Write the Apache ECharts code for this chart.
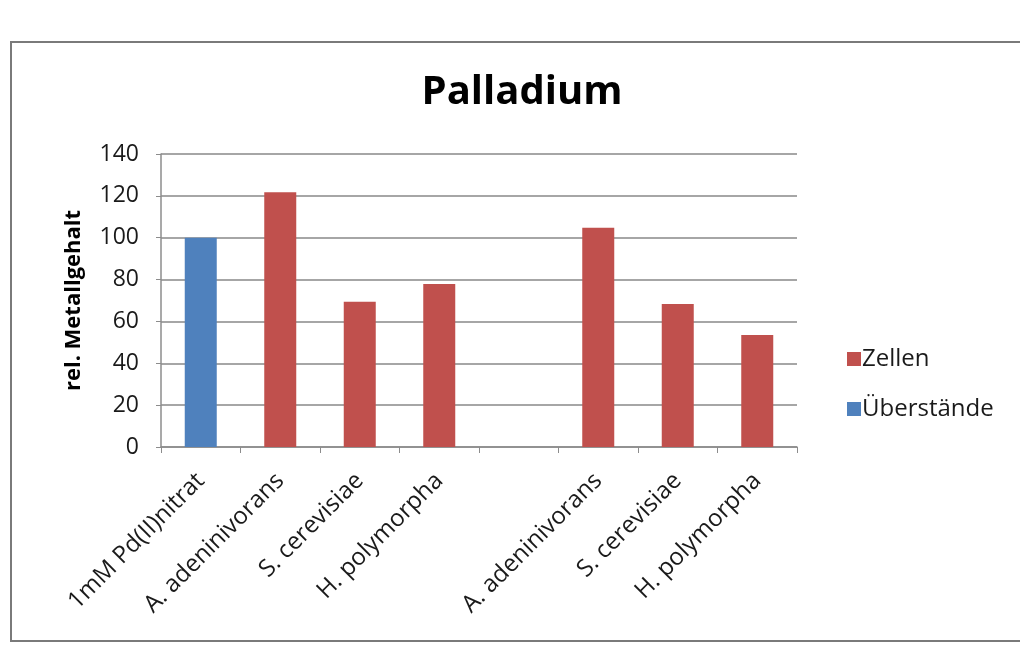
<!DOCTYPE html>
<html>
<head>
<meta charset="utf-8">
<script src="https://cdn.jsdelivr.net/npm/echarts@6/dist/echarts.min.js"></script>
<style>
  html, body { margin: 0; padding: 0; background: #ffffff; }
  #chart { width: 1020px; height: 657px; }
</style>
</head>
<body>
<div id="chart"></div>
<script>
// Categories along the x axis (the fifth slot is an intentional gap between groups)
const categories = [
  '1mM Pd(II)nitrat',
  'A. adeninivorans',
  'S. cerevisiae',
  'H. polymorpha',
  '',
  'A. adeninivorans',
  'S. cerevisiae',
  'H. polymorpha'
];

// Relative metal content, cells
const zellen = ['-', 121.7, 69.4, 77.9, '-', 104.8, 68.3, 53.5];

// Relative metal content, supernatants / reference
const ueberstaende = [100, '-', '-', '-', '-', '-', '-', '-'];

const yTicks = { min: 0, max: 140, interval: 20 };

const textColor = '#1a1a1a';
const fontFamily = 'Open Sans, Noto Sans, sans-serif';

const chart = echarts.init(document.getElementById('chart'), null, { renderer: 'canvas' });

chart.setOption({
  backgroundColor: '#ffffff',
  animation: false,
  graphic: [
    {
      type: 'rect',
      shape: { x: 11, y: 42, width: 1030, height: 599 },
      style: { fill: 'none', stroke: '#7a7a7a', lineWidth: 2 },
      z: -1
    }
  ],
  title: {
    text: 'Palladium',
    left: 517,
    textAlign: 'center',
    top: 68,
    textStyle: { fontFamily: fontFamily, fontSize: 40, fontWeight: 'bold', color: '#000000' }
  },
  legend: {
    orient: 'vertical',
    left: 842,
    top: 342,
    itemWidth: 14,
    itemHeight: 14,
    itemGap: 26,
    icon: 'rect',
    data: ['Zellen', 'Überstände'],
    textStyle: { fontFamily: fontFamily, fontSize: 24, color: textColor, padding: [0, 0, 0, -4] }
  },
  grid: { left: 161, right: 223, top: 154, bottom: 210 },
  xAxis: {
    type: 'category',
    data: categories,
    boundaryGap: true,
    axisLine: { show: true, lineStyle: { color: '#8c8c8c', width: 1.5 } },
    axisTick: { show: true, alignWithLabel: false, length: 6, lineStyle: { color: '#8c8c8c' } },
    axisLabel: {
      interval: 0,
      rotate: 45,
      margin: 30,
      fontFamily: fontFamily,
      fontSize: 24,
      color: textColor
    }
  },
  yAxis: {
    type: 'value',
    min: yTicks.min,
    max: yTicks.max,
    interval: yTicks.interval,
    name: 'rel. Metallgehalt',
    nameLocation: 'middle',
    nameGap: 76,
    nameTextStyle: { fontFamily: fontFamily, fontSize: 22, fontWeight: 'bold', color: '#000000' },
    axisLine: { show: true, lineStyle: { color: '#8c8c8c', width: 1.5 } },
    axisTick: { show: true, length: 5, lineStyle: { color: '#8c8c8c' } },
    axisLabel: { fontFamily: fontFamily, fontSize: 23, color: textColor, margin: 22 },
    splitLine: { show: true, lineStyle: { color: '#a6a6a6', width: 2 } }
  },
  series: [
    {
      name: 'Zellen',
      type: 'bar',
      stack: 'gehalt',
      barWidth: 32,
      data: zellen,
      itemStyle: { color: '#C0504D' }
    },
    {
      name: 'Überstände',
      type: 'bar',
      stack: 'gehalt',
      barWidth: 32,
      data: ueberstaende,
      itemStyle: { color: '#4F81BD' }
    }
  ]
});
</script>
</body>
</html>
